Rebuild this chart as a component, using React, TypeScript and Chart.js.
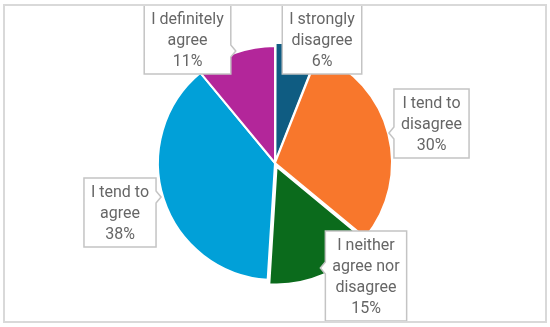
import React, { useEffect, useRef } from "react";
import { Chart, registerables } from "chart.js";

Chart.register(...registerables);

// ---- data ----
const categories: string[][] = [
  ["I strongly", "disagree"],
  ["I tend to", "disagree"],
  ["I neither", "agree nor", "disagree"],
  ["I tend to", "agree"],
  ["I definitely", "agree"],
];
const values = [6, 30, 15, 38, 11];

// ---- styles ----
const colors = ["#0F5C82", "#F8772C", "#0B6B1C", "#01A0D8", "#B3269A"];
const offsets = [8, 0, 16, 0, 0];

// callout box layout relative to pie centre (box centre x, box top y, pointer side, pointer y from top)
const calloutLayout = [
  { cx: 47, top: -158, side: "none", py: 0 },
  { cx: 156.5, top: -74, side: "left", py: 44 },
  { cx: 91, top: 68, side: "left", py: 37 },
  { cx: -155, top: 15, side: "right", py: 19 },
  { cx: -87.5, top: -158, side: "right", py: 46 },
];

const FONT = "16px Roboto";
const LINE_H = 21;

const framePlugin = {
  id: "frame",
  beforeDraw(chart: any) {
    const ctx = chart.ctx;
    ctx.save();
    ctx.fillStyle = "#ffffff";
    ctx.fillRect(0, 0, chart.width, chart.height);
    ctx.restore();
  },
  afterDraw(chart: any) {
    const ctx = chart.ctx;
    const meta = chart.getDatasetMeta(0);
    const arc0 = meta.data[0];
    const cx = arc0.x;
    const cy = arc0.y;
    ctx.save();
    ctx.font = FONT;
    values.forEach((v, i) => {
      const lines = [...categories[i], v + "%"];
      const L = calloutLayout[i];
      const w = Math.max(...lines.map((l) => ctx.measureText(l).width)) + 14;
      const h = lines.length * LINE_H + 6;
      const x0 = cx + L.cx - w / 2;
      const y0 = cy + L.top;
      const x1 = x0 + w;
      const y1 = y0 + h;
      const pY = y0 + L.py;
      ctx.beginPath();
      ctx.moveTo(x0, y0);
      ctx.lineTo(x1, y0);
      if (L.side === "right") {
        ctx.lineTo(x1, pY - 6);
        ctx.lineTo(x1 + 5, pY);
        ctx.lineTo(x1, pY + 6);
      }
      ctx.lineTo(x1, y1);
      ctx.lineTo(x0, y1);
      if (L.side === "left") {
        ctx.lineTo(x0, pY + 6);
        ctx.lineTo(x0 - 5, pY);
        ctx.lineTo(x0, pY - 6);
      }
      ctx.closePath();
      ctx.fillStyle = "#ffffff";
      ctx.fill();
      ctx.strokeStyle = "#c4c4c4";
      ctx.lineWidth = 1.5;
      ctx.stroke();
      ctx.fillStyle = "#666666";
      ctx.textAlign = "center";
      ctx.textBaseline = "middle";
      lines.forEach((l, k) => {
        ctx.fillText(l, x0 + w / 2, y0 + 15 + k * LINE_H);
      });
    });
    // outer frame
    ctx.strokeStyle = "#d9d9d9";
    ctx.lineWidth = 2;
    ctx.strokeRect(4, 5, 542, 317);
    ctx.restore();
  },
};

export default function App() {
  const ref = useRef<HTMLCanvasElement | null>(null);
  useEffect(() => {
    document.body.style.margin = "0";
    const canvas = ref.current;
    if (!canvas) return;
    const chart = new Chart(canvas, {
      type: "pie",
      data: {
        labels: categories,
        datasets: [
          {
            data: values,
            backgroundColor: colors,
            borderColor: "#ffffff",
            borderWidth: 2,
            offset: offsets,
          },
        ],
      },
      options: {
        responsive: false,
        animation: false,
        layout: { padding: { top: 37, bottom: 38, left: 149, right: 149 } },
        plugins: {
          legend: { display: false },
          tooltip: { enabled: false },
          title: { display: false },
        },
      },
      plugins: [framePlugin],
    });
    return () => chart.destroy();
  }, []);
  return (
    <div style={{ width: 550, height: 327 }}>
      <canvas ref={ref} width={550} height={327} style={{ display: "block" }} />
    </div>
  );
}
